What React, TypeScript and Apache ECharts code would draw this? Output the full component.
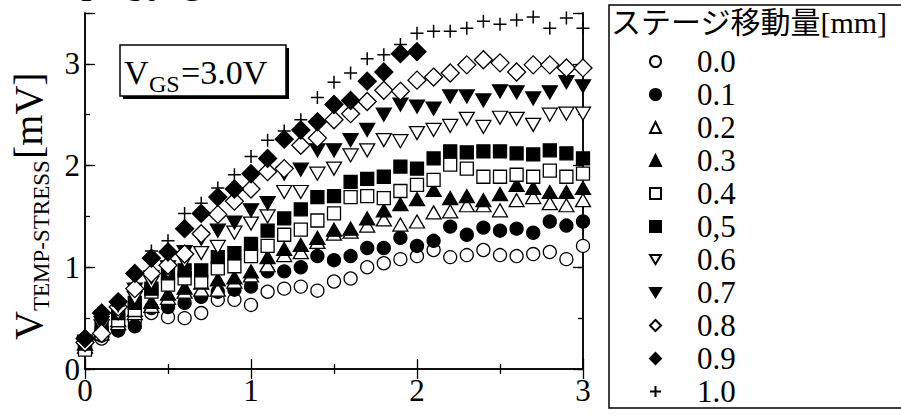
import React, { useEffect, useRef } from "react";
import * as echarts from "echarts";

const xValues = [0, 0.1, 0.2, 0.3, 0.4, 0.5, 0.6, 0.7, 0.8, 0.9, 1.0, 1.1, 1.2, 1.3, 1.4, 1.5, 1.6, 1.7, 1.8, 1.9, 2.0, 2.1, 2.2, 2.3, 2.4, 2.5, 2.6, 2.7, 2.8, 2.9, 3.0];

const s00 = [0.20, 0.30, 0.38, 0.47, 0.55, 0.51, 0.50, 0.55, 0.68, 0.68, 0.63, 0.76, 0.79, 0.81, 0.77, 0.86, 0.89, 1.00, 1.04, 1.08, 1.11, 1.17, 1.10, 1.12, 1.17, 1.12, 1.11, 1.13, 1.15, 1.08, 1.21];
const s01 = [0.25, 0.33, 0.38, 0.42, 0.60, 0.61, 0.65, 0.71, 0.76, 0.78, 0.81, 0.96, 0.96, 1.00, 1.11, 1.07, 1.11, 1.19, 1.19, 1.29, 1.21, 1.26, 1.40, 1.32, 1.39, 1.36, 1.38, 1.34, 1.45, 1.41, 1.45];
const s02 = [0.22, 0.35, 0.45, 0.55, 0.62, 0.70, 0.76, 0.78, 0.78, 0.86, 0.92, 1.02, 1.12, 1.15, 1.25, 1.33, 1.35, 1.41, 1.47, 1.42, 1.45, 1.54, 1.55, 1.61, 1.61, 1.56, 1.66, 1.69, 1.63, 1.61, 1.66];
const s03 = [0.25, 0.38, 0.48, 0.58, 0.66, 0.74, 0.80, 0.85, 0.88, 0.90, 0.96, 1.10, 1.18, 1.22, 1.29, 1.37, 1.38, 1.48, 1.56, 1.62, 1.67, 1.76, 1.68, 1.70, 1.66, 1.72, 1.81, 1.78, 1.74, 1.74, 1.78];
const s04 = [0.19, 0.35, 0.48, 0.58, 0.76, 0.83, 0.89, 0.86, 0.99, 1.01, 1.11, 1.21, 1.32, 1.37, 1.46, 1.53, 1.69, 1.70, 1.68, 1.75, 1.81, 1.86, 2.01, 1.97, 1.89, 1.89, 1.91, 1.89, 1.95, 1.89, 1.92];
const s05 = [0.25, 0.40, 0.55, 0.65, 0.79, 0.94, 0.97, 0.97, 1.10, 1.14, 1.23, 1.36, 1.48, 1.57, 1.69, 1.70, 1.84, 1.87, 1.89, 1.99, 1.97, 2.07, 2.14, 2.13, 2.14, 2.14, 2.12, 2.11, 2.15, 2.12, 2.07];
const s06 = [0.25, 0.42, 0.55, 0.70, 0.85, 0.96, 1.06, 1.14, 1.20, 1.34, 1.43, 1.50, 1.74, 1.74, 1.92, 1.97, 2.10, 2.15, 2.25, 2.24, 2.32, 2.35, 2.39, 2.46, 2.38, 2.47, 2.46, 2.40, 2.50, 2.51, 2.51];
const s07 = [0.27, 0.45, 0.60, 0.78, 0.90, 1.00, 1.15, 1.28, 1.36, 1.44, 1.56, 1.63, 1.92, 1.96, 2.15, 2.15, 2.25, 2.35, 2.50, 2.60, 2.58, 2.56, 2.68, 2.68, 2.64, 2.73, 2.72, 2.66, 2.72, 2.82, 2.78];
const s08 = [0.26, 0.35, 0.61, 0.79, 0.94, 1.02, 1.13, 1.33, 1.52, 1.65, 1.77, 1.94, 1.97, 2.20, 2.27, 2.45, 2.51, 2.63, 2.74, 2.73, 2.84, 2.87, 2.91, 2.99, 3.04, 3.01, 2.92, 2.99, 2.99, 2.96, 2.96];
const s09 = [0.30, 0.55, 0.66, 0.94, 1.09, 1.15, 1.38, 1.53, 1.69, 1.77, 1.92, 2.07, 2.26, 2.35, 2.43, 2.60, 2.64, 2.83, 2.92, 3.10, 3.12];
const s10 = [0.30, 0.50, 0.62, 0.95, 1.16, 1.26, 1.53, 1.63, 1.78, 1.91, 2.09, 2.25, 2.34, 2.45, 2.67, 2.82, 2.91, 3.05, 3.09, 3.19, 3.30, 3.32, 3.32, 3.35, 3.42, 3.39, 3.43, 3.46, 3.35, 3.45, 3.35];

const seriesNames = ["0.0", "0.1", "0.2", "0.3", "0.4", "0,5", "0.6", "0.7", "0.8", "0.9", "1.0"];
const seriesValues = [s00, s01, s02, s03, s04, s05, s06, s07, s08, s09, s10];
const xTicks = [0, 1, 2, 3];
const yTicks = [0, 1, 2, 3];

const PLUS = "path://M0,6L12,6M6,0L6,12";
const DOWN_TRI = "path://M0,0L12,0L6,10Z";
const SERIF = "'Liberation Serif', 'Times New Roman', serif";

type Style = { symbol: string; size: number | number[]; filled: boolean; rotate?: number; legendIcon?: string };
const styles: Style[] = [
  { symbol: "circle", size: 13, filled: false },
  { symbol: "circle", size: 13, filled: true },
  { symbol: "triangle", size: [15, 13], filled: false },
  { symbol: "triangle", size: [15, 13], filled: true },
  { symbol: "rect", size: 13, filled: false },
  { symbol: "rect", size: 13, filled: true },
  { symbol: "triangle", size: [15, 13], filled: false, rotate: 180, legendIcon: DOWN_TRI },
  { symbol: "triangle", size: [15, 13], filled: true, rotate: 180, legendIcon: DOWN_TRI },
  { symbol: "diamond", size: 18, filled: false },
  { symbol: "diamond", size: 18, filled: true },
  { symbol: PLUS, size: 13, filled: true },
];

export default function App() {
  const ref = useRef<HTMLDivElement>(null);
  useEffect(() => {
    if (!ref.current) return;
    const chart = echarts.init(ref.current, null, { renderer: "svg" });
    const axisLine = { show: true, lineStyle: { color: "#000", width: 1.5 } };
    const series = seriesValues.map((vals, i) => {
      const st = styles[i];
      return {
        type: "scatter",
        name: seriesNames[i],
        xAxisIndex: 0,
        yAxisIndex: 0,
        clip: false,
        symbol: st.symbol,
        symbolSize: st.size,
        symbolRotate: st.rotate || 0,
        itemStyle: {
          color: st.filled ? "#000" : "#fff",
          borderColor: "#000",
          borderWidth: st.symbol === PLUS ? 1.5 : 1.3,
          opacity: 1,
        },
        emphasis: { disabled: true },
        data: vals.map((v, j) => [xValues[j], v]),
      };
    });
    const yAxisBase = (pos: string, interval: number, len: number, labels: boolean) => ({
      type: "value",
      position: pos,
      min: 0,
      max: 3.5,
      interval,
      axisLine,
      splitLine: { show: false },
      axisTick: { show: true, inside: true, length: len, lineStyle: { color: "#000", width: 1.3 } },
      axisLabel: {
        show: labels,
        fontSize: 31,
        fontFamily: SERIF,
        color: "#000",
        margin: 5,
        formatter: (v: number) => (yTicks.includes(v) ? String(v) : ""),
      },
    });
    const xAxisBase = (pos: string, labels: boolean) => ({
      type: "value",
      position: pos,
      min: 0,
      max: 3,
      interval: 1,
      axisLine,
      splitLine: { show: false },
      axisTick: { show: true, inside: true, length: 10, lineStyle: { color: "#000", width: 1.3 } },
      minorTick: { show: true, splitNumber: 2, length: 5, lineStyle: { color: "#000", width: 1.3 } },
      minorSplitLine: { show: false },
      axisLabel: {
        show: labels,
        fontSize: 31,
        fontFamily: SERIF,
        color: "#000",
        margin: 6,
        formatter: (v: number) => (xTicks.includes(v) ? String(v) : ""),
      },
    });
    const legendData = seriesNames.map((name, i) =>
      styles[i].legendIcon ? { name, icon: styles[i].legendIcon } : { name }
    );
    chart.setOption({
      animation: false,
      backgroundColor: "#fff",
      grid: { left: 85, right: 318, top: 13, bottom: 49 },
      xAxis: [xAxisBase("bottom", true), xAxisBase("top", false)],
      yAxis: [
        yAxisBase("left", 1, 10, true),
        yAxisBase("left", 0.5, 5, false),
        yAxisBase("right", 1, 10, false),
        yAxisBase("right", 0.5, 5, false),
      ],
      legend: {
        orient: "vertical",
        left: 649,
        top: 45,
        height: 370,
        padding: 0,
        itemWidth: 11,
        itemHeight: 11,
        itemGap: 0,
        selectedMode: false,
        textStyle: { fontSize: 31, lineHeight: 33, fontFamily: SERIF, color: "#000", padding: [0, 0, 0, 31] },
        data: legendData,
      },
      graphic: [
        {
          type: "text",
          left: 77,
          top: -25,
          style: { text: "T = 30 °C", fontSize: 31, fontFamily: SERIF, fill: "#000" },
        },
        { type: "rect", shape: { x: 123, y: 48, width: 166, height: 51 }, style: { fill: "#000" } },
        { type: "rect", shape: { x: 120, y: 45, width: 166, height: 51 }, style: { fill: "#fff", stroke: "#000", lineWidth: 1.5 } },
        { type: "text", x: 124, y: 89, style: { text: "V", fontSize: 34, fontFamily: SERIF, fill: "#000", textVerticalAlign: "bottom" } },
        { type: "text", x: 149, y: 96, style: { text: "GS", fontSize: 24, fontFamily: SERIF, fill: "#000", textVerticalAlign: "bottom" } },
        { type: "text", x: 181, y: 89, style: { text: "=3.0V", fontSize: 34, fontFamily: SERIF, fill: "#000", textVerticalAlign: "bottom" } },
        {
          type: "group",
          x: 48,
          y: 340,
          rotation: Math.PI / 2,
          children: [
            { type: "text", x: 0, y: 0, style: { text: "V", fontSize: 40, fontFamily: SERIF, fill: "#000", textVerticalAlign: "bottom" } },
            { type: "text", x: 29, y: 5, style: { text: "TEMP-STRESS", fontSize: 23, fontFamily: SERIF, fill: "#000", textVerticalAlign: "bottom" } },
            { type: "text", x: 181, y: 0, style: { text: "[mV]", fontSize: 40, fontFamily: SERIF, fill: "#000", textVerticalAlign: "bottom" } },
          ],
        },
        { type: "rect", shape: { x: 609, y: 5, width: 300, height: 403 }, style: { fill: "none", stroke: "#000", lineWidth: 1.5 } },
        {
          type: "text",
          x: 611,
          y: 22,
          style: { text: "ステージ移動量[mm]", fontSize: 30, fontFamily: "'Liberation Serif', 'Noto Sans CJK JP'", fill: "#000", textVerticalAlign: "middle" },
        },
      ],
      series,
    });
    return () => chart.dispose();
  }, []);
  return <div ref={ref} style={{ position: "fixed", left: 0, top: 0, width: 901, height: 418 }} />;
}
